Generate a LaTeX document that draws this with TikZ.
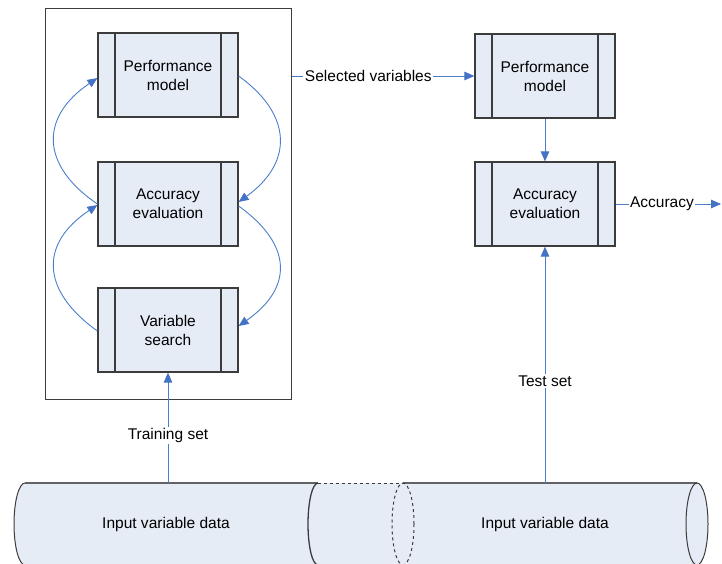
\documentclass[tikz,border=0pt]{standalone}
\usepackage{fontspec}
\setmainfont{Liberation Sans}
\usetikzlibrary{arrows.meta}
\definecolor{boxfill}{HTML}{E6ECF6}
\definecolor{edge}{HTML}{3C3C3C}
\definecolor{linkc}{HTML}{4A7EC8}
\definecolor{tipc}{HTML}{4472C4}

\begin{document}
\begin{tikzpicture}[x=1pt,y=-1pt,
  font=\fontsize{15.5}{19}\selectfont,
  procbox/.style={draw=edge, line width=1.2pt, fill=boxfill,
    minimum width=140pt, minimum height=84pt, align=center, inner sep=0pt,
    path picture={\draw[edge, line width=1.2pt]
      ([xshift=17pt]path picture bounding box.north west) -- ([xshift=17pt]path picture bounding box.south west)
      ([xshift=-17pt]path picture bounding box.north east) -- ([xshift=-17pt]path picture bounding box.south east);}},
  link/.style={draw=linkc, line width=0.9pt,
    -{Triangle[length=10pt,width=8.5pt,color=tipc,fill=tipc]}},
  tag/.style={fill=white, inner sep=1.5pt},
  pipe/.style={draw=edge, line width=1pt}
]
\useasboundingbox (0,0) rectangle (722,564);

% data store: two overlapping cylinders
\fill[boxfill] (697,483) arc[start angle=90, end angle=-90, x radius=11pt, y radius=41pt]
  -- (25,565) arc[start angle=270, end angle=90, x radius=11pt, y radius=41pt] -- cycle;
\draw[pipe, line width=1.3pt, draw=edge!80] (25,483) -- (318,483) (403,483) -- (697,483)
  (25,565) -- (318,565) (403,565) -- (697,565);
\draw[pipe, dashed] (318,483) -- (403,483) (318,565) -- (403,565);
\draw[pipe] (25,483) arc[start angle=90, end angle=270, x radius=11pt, y radius=41pt];
\draw[pipe, line width=1.3pt] (318,483) arc[start angle=90, end angle=270, x radius=10pt, y radius=41pt];
\draw[pipe, dashed] (403,524) ellipse[x radius=11pt, y radius=41pt];
\draw[pipe] (697,524) ellipse[x radius=11pt, y radius=41pt];
\node (dataL) at (166,524) {Input variable data};
\node (dataR) at (545,524) {Input variable data};
\coordinate (trainsrc) at (168,483);
\coordinate (testsrc) at (545,483);

% training loop
\node[draw=edge, line width=1pt, minimum width=246pt, minimum height=390pt, inner sep=0pt] (loop) at (168,204) {};
\node[procbox] (pm) at (168,75) {Performance\\model};
\node[procbox] (ae) at (168,204) {Accuracy\\evaluation};
\node[procbox] (vs) at (168,330) {Variable\\search};

% test chain
\node[procbox] (pm2) at (545,76) {Performance\\model};
\node[procbox] (ae2) at (545,204) {Accuracy\\evaluation};
\coordinate (accout) at (721,204);

% loop connectors
\draw[link] (ae.west) .. controls (40,165) and (40,117) .. ([yshift=-3pt]pm.west);
\draw[link] ([yshift=-1pt]vs.west) .. controls (40,290) and (40,243) .. ([yshift=-1pt]ae.west);
\draw[link] ([yshift=-1pt]pm.east) .. controls (293,115) and (293,163) .. ([yshift=2pt]ae.east);
\draw[link] ([yshift=-2pt]ae.east) .. controls (293,245) and (293,288) .. ([yshift=4pt]vs.east);

% flow connectors
\draw[link] (loop.east |- pm2.west) -- node[tag, pos=0.42] {Selected variables} (pm2.west);
\draw[link] (pm2.south) -- (ae2.north);
\draw[link] (ae2.east) -- node[tag, pos=0.44] {Accuracy} (accout);
\draw[link] (testsrc) -- node[tag, pos=0.43] {Test set} (ae2.south);
\draw[link] (trainsrc) -- node[tag, pos=0.43] {Training set} (vs.south);
\end{tikzpicture}
\end{document}
